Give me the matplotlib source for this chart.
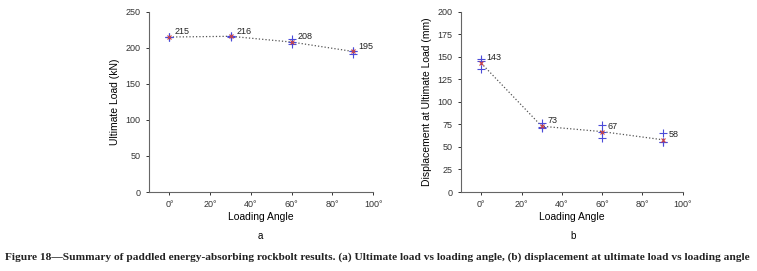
import matplotlib
matplotlib.use("Agg")
import matplotlib.pyplot as plt

# ---- data ----
angles = [0, 30, 60, 90]
load_tests = [[215, 215, 215], [216, 217, 215], [212, 208, 205], [196, 192, 195]]
load_mean = [215, 216, 208, 195]
disp_tests = [[148, 145, 137], [77, 72, 71], [74, 67, 60], [65, 55, 55]]
disp_mean = [143, 73, 67, 58]
xticks = [0, 20, 40, 60, 80, 100]
xticklabels = ["0°", "20°", "40°", "60°", "80°", "100°"]

plt.rcParams['font.family'] = ['Liberation Sans', 'DejaVu Sans']

fig = plt.figure(figsize=(7.57, 2.71), dpi=100)
fig.patch.set_facecolor('white')

ax_a = fig.add_axes([0.197, 0.2915, 0.296, 0.665])
ax_b = fig.add_axes([0.609, 0.2915, 0.293, 0.665])


def draw(ax, tests, mean, ylim, yticks, ylabel):
    for a, vals in zip(angles, tests):
        ax.plot([a] * len(vals), vals, ls='none', marker='+', color='#4b4bd8',
                ms=6, mew=0.8, zorder=3)
    ax.plot(angles, mean, ls=':', color='#555555', lw=0.9, zorder=2)
    ax.plot(angles, mean, ls='none', marker='x', color='#d04040', ms=3,
            mew=0.8, zorder=4)
    for a, m in zip(angles, mean):
        ax.annotate(f"{m}", (a, m), xytext=(4, 2), textcoords='offset points',
                    fontsize=6.5, color='#222222')
    ax.set_xlim(-10, 100)
    ax.set_ylim(*ylim)
    ax.set_xticks(xticks)
    ax.set_xticklabels(xticklabels)
    ax.set_yticks(yticks)
    ax.tick_params(labelsize=6.5, length=2.5, width=0.7, colors='#333333',
                   direction='out')
    for s in ['top', 'right']:
        ax.spines[s].set_visible(False)
    for s in ['left', 'bottom']:
        ax.spines[s].set_color('#666666')
        ax.spines[s].set_linewidth(0.8)
    ax.set_xlabel("Loading Angle", fontsize=7.5, labelpad=2)
    ax.set_ylabel(ylabel, fontsize=7.5, labelpad=4)


draw(ax_a, load_tests, load_mean, (0, 250), [0, 50, 100, 150, 200, 250],
     "Ultimate Load (kN)")
draw(ax_b, disp_tests, disp_mean, (0, 200),
     [0, 25, 50, 75, 100, 125, 150, 175, 200],
     "Displacement at Ultimate Load (mm)")

fig.text(260 / 757, 1 - 236 / 271, "a", fontsize=7, ha='center', va='center')
fig.text(573 / 757, 1 - 236 / 271, "b", fontsize=7, ha='center', va='center')
fig.text(5 / 757, 1 - 257 / 271,
         "Figure 18—Summary of paddled energy-absorbing rockbolt results. (a) Ultimate load vs loading angle, (b) displacement at ultimate load vs loading angle",
         fontsize=8.2, fontweight='bold', family='Liberation Serif',
         ha='left', va='center', color='#222222')

fig.savefig("out.png", dpi=100, facecolor='white')
